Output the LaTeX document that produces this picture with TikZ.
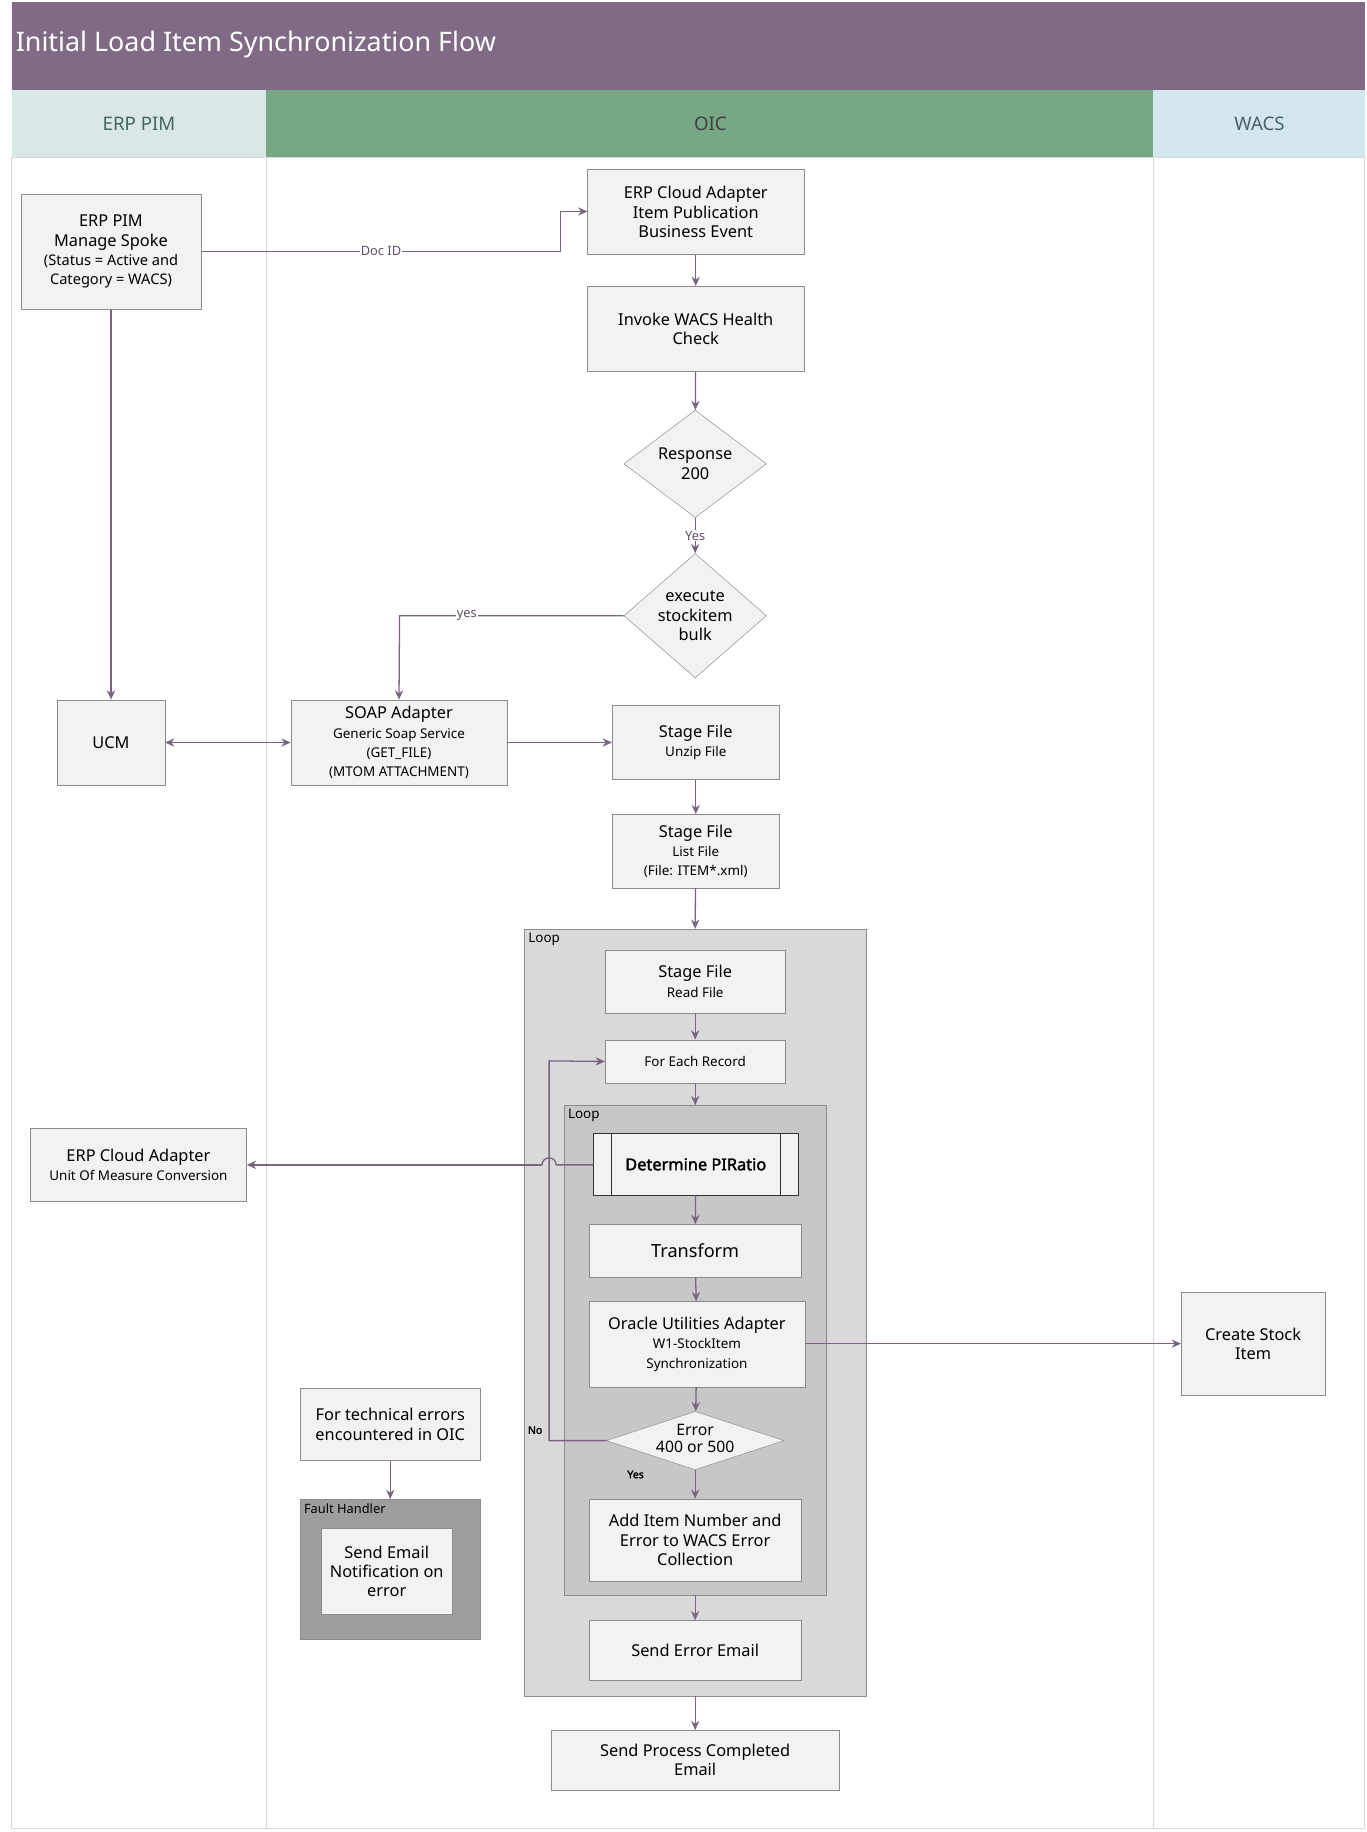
\documentclass[tikz,border=0pt]{standalone}
\usepackage{fontspec}
\setmainfont{Noto Sans}[BoldFont={Noto Sans},BoldFeatures={FakeBold=2}]
\usetikzlibrary{shapes.geometric,arrows.meta}
\definecolor{titlec}{RGB}{128,106,134}
\definecolor{erphc}{RGB}{217,232,230}
\definecolor{oichc}{RGB}{119,168,134}
\definecolor{wachc}{RGB}{212,230,238}
\definecolor{arr}{RGB}{123,99,130}
\definecolor{boxf}{RGB}{242,242,242}
\definecolor{boxd}{RGB}{140,140,140}
\definecolor{hdrt}{RGB}{70,100,100}
\tikzset{
 box/.style={draw=boxd,fill=boxf,inner sep=0pt,align=center,font=\fontsize{14}{16.5}\selectfont},
 dia/.style={draw=boxd,fill=boxf,diamond,inner sep=0pt,align=center,font=\fontsize{14}{16.5}\selectfont},
 flow/.style={draw=arr,line width=1.1pt,-{Stealth[length=8pt,width=7pt]}},
 lbl/.style={fill=white,inner sep=1pt,font=\fontsize{11}{13}\selectfont,text=arr!80!black},
 sm/.style={font=\fontsize{11.5}{13}\selectfont}
}
\newcommand{\bx}[4]{\node[box,minimum width=#3-#1,minimum height=#4-#2] at ({(#1+#3)/2},{(#2+#4)/2})}
\newcommand{\sms}{\fontsize{11.5}{13}\selectfont}
\begin{document}
\begin{tikzpicture}[x=1pt,y=-1pt]
\useasboundingbox (0,0) rectangle (1170,1568);
\fill[white] (0,0) rectangle (1170,1568);
% title & lanes
\fill[titlec] (10,2) rectangle (1168,77);
\node[anchor=west,text=white,font=\fontsize{23}{27}\selectfont] (title) at (10,38) {Initial Load Item Synchronization Flow};
\fill[erphc] (10,77) rectangle (228,135);
\fill[oichc] (228,77) rectangle (987,135);
\fill[wachc] (987,77) rectangle (1168,135);
\node[text=hdrt,font=\fontsize{16}{19}\selectfont] (h1) at (119,106) {ERP PIM};
\node[text=black!75,font=\fontsize{16}{19}\selectfont] (h2) at (608,106) {OIC};
\node[text=hdrt,font=\fontsize{16}{19}\selectfont] (h3) at (1078,106) {WACS};
\draw[black!15] (10,135) rectangle (1168,1565) (228,135) -- (228,1565) (987,135) -- (987,1565);
% loops
\fill[black!15,draw=boxd] (449,795) rectangle (741,1452);
\node[anchor=north west,sm,inner sep=2pt] (l1) at (450,796) {Loop};
\fill[black!22,draw=boxd] (483,946) rectangle (707,1365);
\node[anchor=north west,sm,inner sep=2pt] (l2) at (484,947) {Loop};
\fill[black!38,draw=boxd] (257,1283) rectangle (411,1403);
\node[anchor=north west,font=\fontsize{11}{13}\selectfont,inner sep=2pt] (fl) at (258,1285) {Fault Handler};
% nodes
\bx{18}{166}{172}{265} (erp) {ERP PIM\\Manage Spoke\\{\fontsize{12.5}{15}\selectfont(Status = Active and}\\{\fontsize{12.5}{15}\selectfont Category = WACS)}};
\bx{503}{145}{688}{218} (cloud) {ERP Cloud Adapter\\Item Publication\\Business Event};
\bx{503}{245}{688}{318} (health) {Invoke WACS Health\\Check};
\node[dia,minimum width=122,minimum height=92] (resp) at (595,397) {Response\\200};
\node[dia,minimum width=122,minimum height=92] (exec) at (595,527) {execute\\stockitem\\bulk};
\bx{49}{599}{141}{672} (ucm) {UCM};
\bx{249}{599}{434}{672} (soap) {SOAP Adapter\\{\sms Generic Soap Service}\\{\sms (GET\_FILE)}\\{\sms (MTOM ATTACHMENT)}};
\bx{524}{604}{667}{667} (st1) {Stage File\\{\sms Unzip File}};
\bx{524}{697}{667}{760} (st2) {Stage File\\{\sms List File}\\{\sms (File: ITEM*.xml)}};
\bx{518}{813}{672}{867} (st3) {Stage File\\{\sms Read File}};
\bx{518}{890}{672}{927} (fe) {\sms For Each Record};
\bx{508}{970}{683}{1023} (det) {\bfseries Determine PIRatio};
\draw[black!80] (523,970) -- (523,1023) (668,970) -- (668,1023) (508,970) rectangle (683,1023);
\bx{504}{1048}{686}{1093} (tr) {\fontsize{15.5}{18}\selectfont Transform};
\bx{504}{1114}{689}{1187} (oua) {Oracle Utilities Adapter\\{\sms W1-StockItem}\\{\sms Synchronization}};
\node[dia,aspect=3,minimum width=152,minimum height=50,inner sep=0pt] (err) at (595,1233) {};
\node[font=\fontsize{13.5}{15}\selectfont,align=center] (errt) at (595,1231) {Error\\400 or 500};
\bx{504}{1283}{686}{1353} (add) {Add Item Number and\\Error to WACS Error\\Collection};
\bx{504}{1387}{686}{1438} (se) {Send Error Email};
\bx{472}{1481}{718}{1532} (sp) {Send Process Completed\\Email};
\bx{26}{966}{211}{1028} (ec2) {ERP Cloud Adapter\\{\sms Unit Of Measure Conversion}};
\bx{1011}{1106}{1134}{1194} (cs) {Create Stock\\Item};
\bx{257}{1188}{411}{1250} (te) {For technical errors\\encountered in OIC};
\bx{275}{1308}{387}{1382} (fh) {Send Email\\Notification on\\error};
% coordinates
\coordinate (c1) at (480,215); \coordinate (c2) at (480,181);
\coordinate (c3) at (342,527);
\coordinate (c4) at (470,1233); \coordinate (c5) at (470,908);
\coordinate (h1a) at (476,997); \coordinate (h1b) at (464,997);
\coordinate (lo1) at (595,946); \coordinate (lo2) at (595,1365);
\coordinate (lo3) at (595,795); \coordinate (lo4) at (595,1452);
\coordinate (fht) at (334,1283);
% edges
\draw[draw=arr,line width=1.1pt] (erp.east|-c1) -- node[lbl]{Doc ID} (c1) -- (c2);
\draw[flow] (c2) -- (cloud.west|-c2);
\draw[flow] (erp) -- (ucm);
\draw[flow] (cloud) -- (health);
\draw[flow] (health) -- (resp);
\draw[flow] (resp) -- node[lbl]{Yes} (exec);
\draw[flow] (exec.west) -- node[lbl,pos=0.7]{yes} (c3) -- (soap.north);
\draw[flow,{Stealth[length=8pt,width=7pt]}-{Stealth[length=8pt,width=7pt]}] (ucm) -- (soap);
\draw[flow] (soap.east|-st1) -- (st1);
\draw[flow] (st1) -- (st2);
\draw[flow] (st2) -- (lo3);
\draw[flow] (st3) -- (fe);
\draw[flow] (fe) -- (lo1);
\draw[draw=arr,line width=1.1pt] (det.west|-h1a) -- (h1a) .. controls (476,989) and (464,989) .. (h1b);
\draw[flow] (h1b) -- (ec2.east|-h1b);
\draw[flow] (det) -- (tr);
\draw[flow] (tr) -- (oua);
\draw[flow] (oua) -- (err);
\draw[flow] (oua.east|-cs) -- (cs);
\draw[flow] (err.west) -- (c4) -- (c5) -- (fe.west);
\node[font=\bfseries\fontsize{9}{10}\selectfont] (no) at (458,1224) {No};
\draw[flow] (err) -- (add);
\node[font=\bfseries\fontsize{9}{10}\selectfont] (yes2) at (544,1262) {Yes};
\draw[flow] (lo2) -- (se);
\draw[flow] (lo4) -- (sp);
\draw[flow] (te) -- (fht);
\end{tikzpicture}
\end{document}
